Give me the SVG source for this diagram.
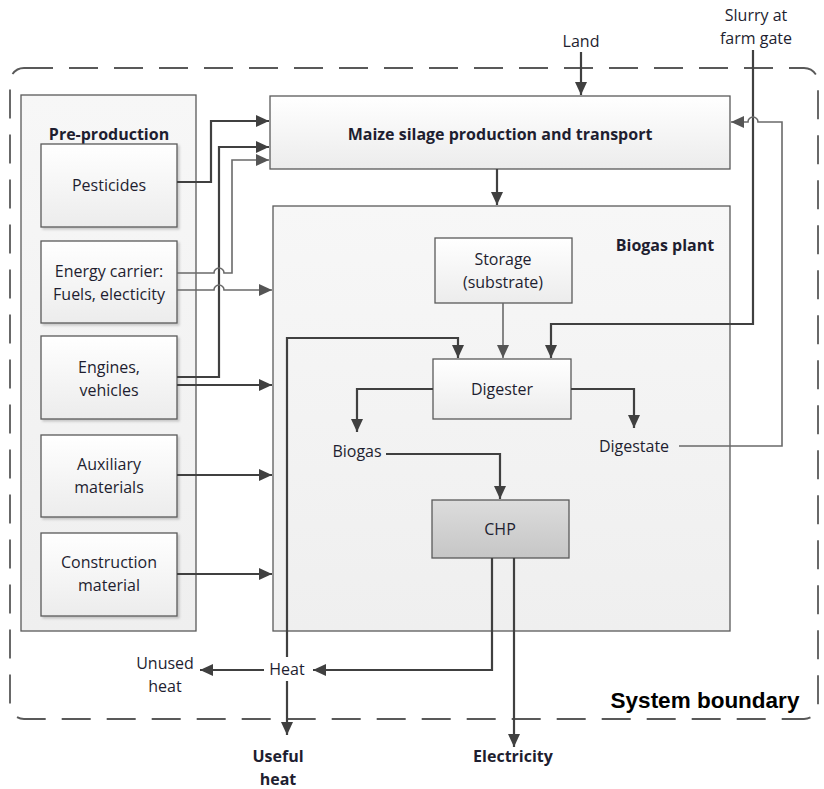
<svg xmlns="http://www.w3.org/2000/svg" width="824" height="789" viewBox="0 0 824 789">
<style>
text{font-family:"Open Sans","Noto Sans","Liberation Sans",sans-serif;font-size:16px;fill:#1e1e30;text-anchor:middle}
.b{font-weight:bold}
.sb{font-family:"Liberation Sans",Arial,sans-serif;font-size:22.5px;font-weight:bold;fill:#000}
.box{fill:url(#g1);stroke:#5a5a5a;stroke-width:1.3}
.panel{fill:url(#g2);stroke:#5a5a5a;stroke-width:1.3}
.d{fill:none;stroke:#404040;stroke-width:2.2}
.t{fill:none;stroke:#6a6a6a;stroke-width:1.6}
.ah{marker-end:url(#ar)}
.ahg{marker-end:url(#arg)}
</style>
<defs>
<linearGradient id="g1" x1="0" y1="0" x2="0" y2="1"><stop offset="0" stop-color="#ffffff"/><stop offset="1" stop-color="#ececec"/></linearGradient>
<linearGradient id="g2" x1="0" y1="0" x2="0" y2="1"><stop offset="0" stop-color="#f7f7f7"/><stop offset="1" stop-color="#efefef"/></linearGradient>
<linearGradient id="g3" x1="0" y1="0" x2="0" y2="1"><stop offset="0" stop-color="#dcdcdc"/><stop offset="1" stop-color="#c6c6c6"/></linearGradient>
<filter id="sh" x="-10%" y="-10%" width="130%" height="130%"><feDropShadow dx="2" dy="2" stdDeviation="1.2" flood-color="#000" flood-opacity="0.18"/></filter>
<marker id="ar" markerUnits="userSpaceOnUse" markerWidth="14" markerHeight="12" refX="13" refY="6" orient="auto"><path d="M0,0 L13,6 L0,12 Z" fill="#404040"/></marker>
<marker id="arg" markerUnits="userSpaceOnUse" markerWidth="14" markerHeight="12" refX="13" refY="6" orient="auto"><path d="M0,0 L13,6 L0,12 Z" fill="#555"/></marker>
</defs>
<rect width="824" height="789" fill="#fff"/>

<g id="system-boundary">
<rect x="10" y="68" width="808" height="651" rx="14" fill="none" stroke="#595959" stroke-width="1.8" stroke-dasharray="29,16"/>
<text class="sb" x="705" y="708">System boundary</text>
</g>

<g id="pre-production">
<rect class="panel" x="21" y="95" width="175" height="536"/>
<text class="b" x="109" y="140">Pre-production</text>
</g>
<g id="pesticides"><rect class="box" filter="url(#sh)" x="41" y="144" width="136" height="83"/><text x="109" y="191">Pesticides</text></g>
<g id="energy-carrier"><rect class="box" filter="url(#sh)" x="41" y="241" width="136" height="82"/><text x="109" y="277">Energy carrier:</text><text x="109" y="300">Fuels, electicity</text></g>
<g id="engines"><rect class="box" filter="url(#sh)" x="41" y="336" width="136" height="83"/><text x="109" y="373">Engines,</text><text x="109" y="396">vehicles</text></g>
<g id="auxiliary"><rect class="box" filter="url(#sh)" x="41" y="435" width="136" height="82"/><text x="109" y="470">Auxiliary</text><text x="109" y="493">materials</text></g>
<g id="construction"><rect class="box" filter="url(#sh)" x="41" y="533" width="136" height="83"/><text x="109" y="568">Construction</text><text x="109" y="591">material</text></g>

<g id="maize"><rect class="box" x="270" y="96" width="460" height="73"/><text class="b" x="500" y="140">Maize silage production and transport</text></g>

<g id="biogas-plant"><rect class="panel" x="273" y="206" width="457" height="425"/><text class="b" x="665" y="251">Biogas plant</text></g>
<g id="storage"><rect class="box" x="435" y="238" width="137" height="65"/><text x="503" y="265">Storage</text><text x="503" y="288">(substrate)</text></g>
<g id="digester"><rect class="box" x="433" y="359" width="138" height="60"/><text x="502" y="395">Digester</text></g>
<g id="chp"><rect x="432" y="500" width="137" height="58" fill="url(#g3)" stroke="#5a5a5a" stroke-width="1.3"/><text x="500" y="535">CHP</text></g>

<g id="labels">
<text x="581" y="47">Land</text>
<text x="756" y="21">Slurry at</text>
<text x="756" y="44">farm gate</text>
<text x="357" y="457">Biogas</text>
<text x="634" y="452">Digestate</text>
<text x="287" y="675">Heat</text>
<text x="165" y="669">Unused</text>
<text x="165" y="692">heat</text>
<text class="b" x="278" y="762">Useful</text>
<text class="b" x="278" y="785">heat</text>
<text class="b" x="513" y="762">Electricity</text>
</g>

<g id="connectors">
<path class="d ah" d="M581,52 V95"/>
<path class="d ah" d="M753,50 V324 H551 V358"/>
<path class="t ahg" d="M679,446 H782 V122 H758 A5,5 0 0 0 748,122 H731"/>
<path class="d ah" d="M497,169 V205"/>
<path class="t ahg" d="M503,303 V358"/>
<path class="d ah" d="M287,657 V338 H458 V358"/>
<path class="d ah" d="M433,389 H357 V432"/>
<path class="d ah" d="M386,454 H500 V499"/>
<path class="d ah" d="M571,389 H634 V428"/>
<path class="d ah" d="M492,558 V670 H313"/>
<path class="d ah" d="M514,558 V747"/>
<path class="d ah" d="M264,670 H200"/>
<path class="d ah" d="M287,681 V735"/>
<path class="d ah" d="M177,182 H211 V121 H269"/>
<path class="d ah" d="M177,377 H219 V147 H269"/>
<path class="t ahg" d="M177,273 H214 A5,5 0 0 1 224,273 H232 V160 H269"/>
<path class="t ahg" d="M177,290 H214 A5,5 0 0 1 224,290 H272"/>
<path class="d ah" d="M177,385 H272"/>
<path class="d ah" d="M177,475 H272"/>
<path class="d ah" d="M177,574 H272"/>
</g>
</svg>
